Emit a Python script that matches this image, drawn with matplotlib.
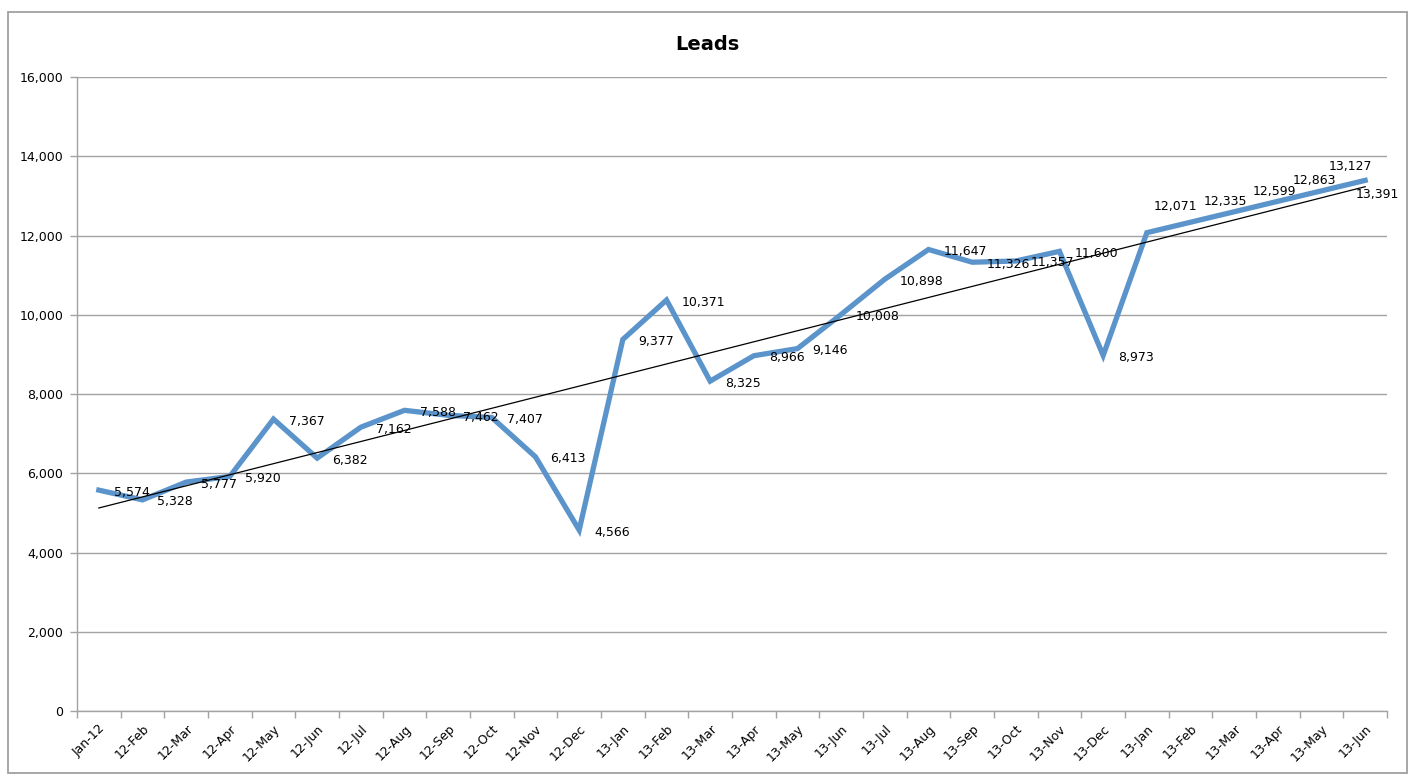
import matplotlib.pyplot as plt
import numpy as np
from matplotlib.patches import Rectangle

# Data
months = ['Jan-12', '12-Feb', '12-Mar', '12-Apr', '12-May', '12-Jun', '12-Jul', '12-Aug',
          '12-Sep', '12-Oct', '12-Nov', '12-Dec', '13-Jan', '13-Feb', '13-Mar', '13-Apr',
          '13-May', '13-Jun', '13-Jul', '13-Aug', '13-Sep', '13-Oct', '13-Nov', '13-Dec',
          '13-Jan', '13-Feb', '13-Mar', '13-Apr', '13-May', '13-Jun']
leads = [5574, 5328, 5777, 5920, 7367, 6382, 7162, 7588, 7462, 7407, 6413, 4566,
         9377, 10371, 8325, 8966, 9146, 10008, 10898, 11647, 11326, 11357, 11600, 8973,
         12071, 12335, 12599, 12863, 13127, 13391]

# label offsets in pixels (default: right of point); last few sit above
default_offset = (15, -2)
special_offsets = {24: (7, 26), 25: (13, 21), 26: (19, 20), 27: (15, 21),
                   28: (7, 24), 29: (-9, -14)}

line_color = '#5b94cb'
grid_color = '#a3a3a3'

fig = plt.figure(figsize=(14.17, 7.83), dpi=100)
ax = fig.add_axes([0.05434, 0.09195, 0.97883 - 0.05434, 0.90166 - 0.09195])

x = np.arange(len(leads))
ax.plot(x, leads, color=line_color, lw=3.8, solid_joinstyle='miter', zorder=3)

# linear trendline
coef = np.polyfit(x, leads, 1)
ax.plot(x, np.polyval(coef, x), color='black', lw=0.9, zorder=4)

for i, v in enumerate(leads):
    off = special_offsets.get(i, default_offset)
    ax.annotate(f'{v:,}', (i, v), xytext=off, textcoords='offset pixels',
                ha='left', va='center', fontsize=9, color='black', zorder=5)

ax.set_xlim(-0.5, len(leads) - 0.5)
ax.set_ylim(0, 16000)
ax.set_yticks(np.arange(0, 16001, 2000))
ax.set_yticklabels([f'{t:,}' for t in range(0, 16001, 2000)])
ax.yaxis.grid(True, color=grid_color, lw=1)
ax.set_axisbelow(True)

ax.set_xticks(x)
ax.set_xticklabels(months, rotation=45, ha='right', rotation_mode='anchor')
ax.set_xticks(np.arange(-0.5, len(leads)), minor=True)
ax.tick_params(axis='x', which='major', length=0, pad=8, labelsize=9)
ax.tick_params(axis='x', which='minor', length=5, color=grid_color, width=1)
ax.tick_params(axis='y', length=5, color=grid_color, width=1, pad=5, labelsize=9)

for s in ['top', 'right']:
    ax.spines[s].set_visible(False)
for s in ['left', 'bottom']:
    ax.spines[s].set_color(grid_color)
    ax.spines[s].set_linewidth(1)

fig.text(0.499, 0.9438, 'Leads', ha='center', va='center', fontsize=14, fontweight='bold')

fig.patches.append(Rectangle((0.00565, 0.01277), 0.99294 - 0.00565, 0.9847 - 0.01277,
                             transform=fig.transFigure, fill=False, edgecolor='#a0a0a0', lw=1.3))

fig.savefig('out.png', dpi=100)
